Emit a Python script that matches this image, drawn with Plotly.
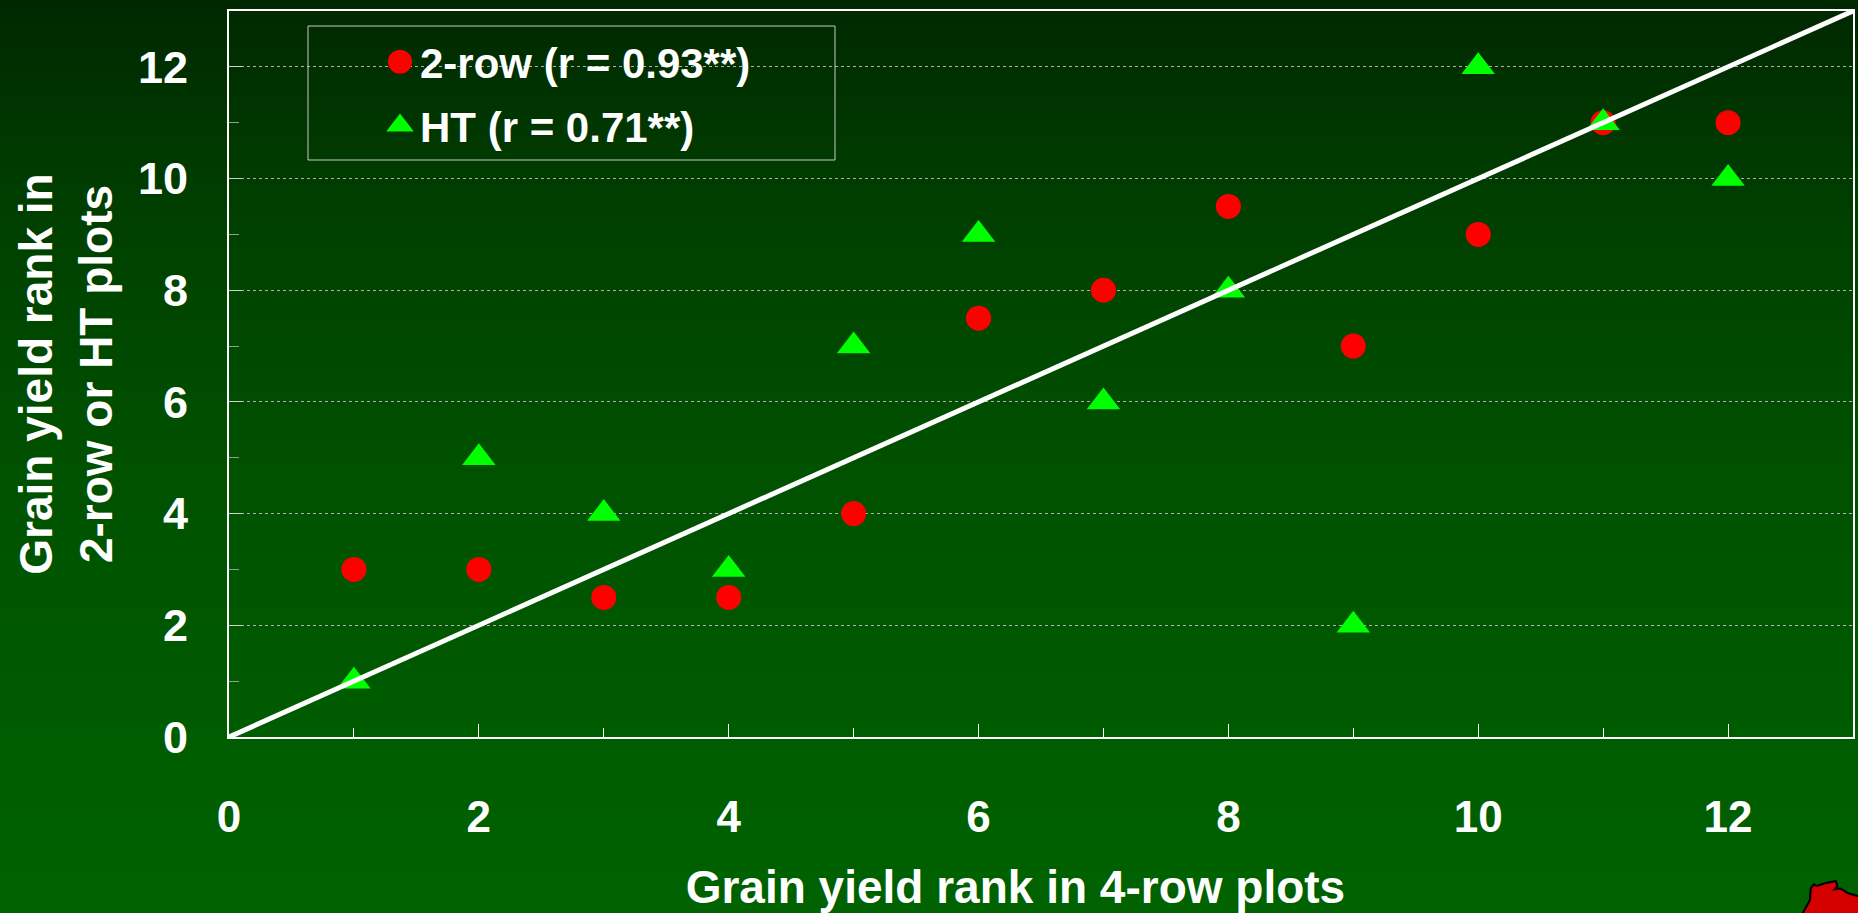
import plotly.graph_objects as go

# ---- data ----
rank_4row = [1, 2, 3, 4, 5, 6, 7, 8, 9, 10, 11, 12]
rank_2row = [3, 3, 2.5, 2.5, 4, 7.5, 8, 9.5, 7, 9, 11, 11]
rank_ht = [1, 5, 4, 3, 7, 9, 6, 8, 2, 12, 11, 10]
ref_line_x = [0, 13]
ref_line_y = [0, 13]
name_2row = "2-row (r = 0.93**)"
name_ht = "HT (r = 0.71**)"
x_title = "Grain yield rank in 4-row plots" + "&nbsp;" * 4
y_title = "Grain yield rank in<br>2-row or HT plots"
tick_vals = [0, 2, 4, 6, 8, 10, 12]
tick_text = ["0", "2", "4", "6", "8", "10", "12"]

# ---- layout geometry (pixels) ----
W, H = 1858, 913
L, R, T, B = 229, 5, 11, 176
PW, PH = W - L - R, H - T - B

def px_x(x):
    return (x - L) / PW

def px_y(y):
    return (H - B - y) / PH

FONT = "Liberation Sans, Arial, sans-serif"

# background gradient stops (pixel y, green value)
grad_stops = [(0, 40), (200, 62), (450, 80), (737, 92), (913, 98)]

def green_at(y):
    for (y0, g0), (y1, g1) in zip(grad_stops[:-1], grad_stops[1:]):
        if y0 <= y <= y1:
            return g0 + (g1 - g0) * (y - y0) / (y1 - y0)
    return grad_stops[-1][1]

shapes = []
band = 6
for y in range(0, H, band):
    g = round(green_at(y + band / 2))
    shapes.append(dict(type="rect", xref="paper", yref="paper",
                       x0=px_x(-2), x1=px_x(W + 2), y0=px_y(y + band + 1), y1=px_y(y - (2 if y == 0 else 0)),
                       fillcolor=f"rgb(0,{g},0)", line=dict(width=0), layer="below"))

# legend box
shapes.append(dict(type="rect", xref="paper", yref="paper",
                   x0=px_x(308), x1=px_x(835), y0=px_y(160), y1=px_y(26),
                   line=dict(color="#c8c8c8", width=1), fillcolor="rgba(0,0,0,0)", layer="above"))

# decorative red blob (bottom right corner)
blob = [(1801.7, 915), (1806, 907.3), (1810, 900), (1810.7, 888.3), (1814, 884.3),
        (1816.7, 886), (1825, 883.3), (1836, 881), (1837.3, 886), (1834.7, 889.3),
        (1840, 888.3), (1848.3, 893.3), (1860, 896.7), (1860, 915)]
path = "M " + " L ".join(f"{px_x(x):.5f},{px_y(y):.5f}" for x, y in blob) + " Z"
shapes.append(dict(type="path", xref="paper", yref="paper", path=path,
                   fillcolor="#d40000", line=dict(color="black", width=2), layer="above"))

fig = go.Figure()
fig.add_trace(go.Scatter(x=rank_4row, y=rank_2row, mode="markers", name=name_2row,
                         legendgroup="a",
                         marker=dict(symbol="circle", size=25, color="#ff0000")))
fig.add_trace(go.Scatter(x=rank_4row, y=rank_ht, mode="markers", name=name_ht,
                         legendgroup="b",
                         marker=dict(symbol="triangle-up", size=29, color="#00ff00")))
fig.add_trace(go.Scatter(x=ref_line_x, y=ref_line_y, mode="lines", showlegend=False,
                         line=dict(color="white", width=5), hoverinfo="skip"))

fig.update_layout(
    width=W, height=H,
    margin=dict(l=L, r=R, t=T, b=B, autoexpand=False),
    paper_bgcolor="rgba(0,0,0,0)", plot_bgcolor="rgba(0,0,0,0)",
    font=dict(family=FONT, color="white", size=44, weight="bold"),
    shapes=shapes,
    showlegend=True,
    legend=dict(x=px_x(380), y=px_y(28), xanchor="left", yanchor="top",
                bgcolor="rgba(0,0,0,0)", borderwidth=0,
                font=dict(size=42, color="white", family=FONT, weight="bold"),
                traceorder="grouped", tracegroupgap=6, itemsizing="trace"),
    xaxis=dict(range=[0, 13], tickvals=tick_vals, ticktext=tick_text,
               showline=True, linecolor="white", linewidth=2, mirror=True,
               ticks="inside", ticklen=13, tickcolor="white", tickwidth=1,
               ticklabelstandoff=40,
               minor=dict(dtick=1, tick0=0, ticks="inside", ticklen=9, tickcolor="white", tickwidth=1),
               showgrid=False, zeroline=False,
               tickfont=dict(size=44, color="white", family=FONT, weight="bold"),
               title=dict(text=x_title, standoff=42,
                          font=dict(size=46, color="white", family=FONT, weight="bold"))),
    yaxis=dict(range=[0, 13], tickvals=tick_vals, ticktext=tick_text,
               showline=True, linecolor="white", linewidth=2, mirror=True,
               ticks="inside", ticklen=13, tickcolor="#d0d0d0", tickwidth=1,
               ticklabelstandoff=30,
               minor=dict(dtick=1, tick0=0, ticks="inside", ticklen=10, tickcolor="#9a9a9a", tickwidth=1),
               showgrid=True, gridcolor="#b0b0b0", gridwidth=1, griddash="dot",
               zeroline=False,
               tickfont=dict(size=45, color="white", family=FONT, weight="bold"),
               title=dict(text=y_title, standoff=11,
                          font=dict(size=46, color="white", family=FONT, weight="bold"))),
)

post = (
    "document.body.style.margin='0';document.body.style.overflow='hidden';"
    "document.documentElement.style.overflow='hidden';"
    "document.querySelectorAll('.legend .legendpoints path.scatterpts').forEach(function(p){"
    "var t=p.getAttribute('transform')||'';p.setAttribute('transform',t+' scale(1.5)');});"
)

fig.write_html("out.html", config={"displayModeBar": False}, post_script=post)
